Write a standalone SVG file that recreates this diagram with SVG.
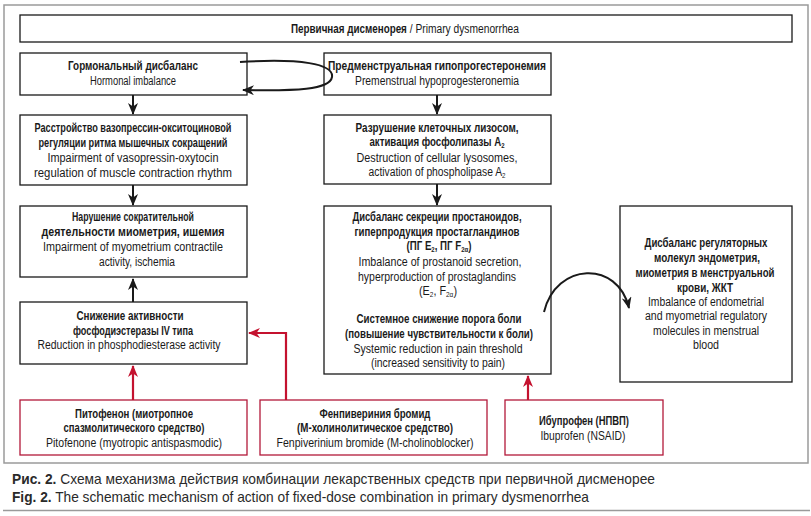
<svg xmlns="http://www.w3.org/2000/svg" width="811" height="516" viewBox="0 0 811 516">
<defs>
<style>
.box{fill:#fff;stroke:#1a1a1a;stroke-width:1.3}
.rbox{fill:#fff;stroke:#b3193a;stroke-width:1.3}
text{font-family:"Liberation Sans",Arial,sans-serif;fill:#1a1a1a;text-anchor:middle}
.b{font-weight:bold;font-size:12px}
.r{font-size:12.5px}
.s{font-size:7.5px}
.cap{font-family:"Liberation Sans",Arial,sans-serif;font-size:14.5px;fill:#2a2a2a;text-anchor:start}
.k{fill:none;stroke:#1a1a1a;stroke-width:2}
.red{fill:none;stroke:#c4122f;stroke-width:2.2}
</style>
<marker id="ak" viewBox="0 0 12 10" refX="11" refY="5" markerWidth="12" markerHeight="10" markerUnits="userSpaceOnUse" orient="auto">
<path d="M0,0 L12,5 L0,10 L3.5,5 z" fill="#1a1a1a"/>
</marker>
<marker id="ar" viewBox="0 0 12 10" refX="11" refY="5" markerWidth="12" markerHeight="10" markerUnits="userSpaceOnUse" orient="auto">
<path d="M0,0 L12,5 L0,10 L3.5,5 z" fill="#c4122f"/>
</marker>
</defs>
<rect x="0" y="0" width="811" height="516" fill="#fff"/>
<rect x="4" y="5" width="804" height="458" fill="none" stroke="#9a9a9a" stroke-width="1.5"/>
<line x1="3" y1="510.5" x2="810" y2="510.5" stroke="#9a9a9a" stroke-width="1.5"/>

<g id="title">
<rect class="box" x="20" y="15" width="772" height="27"/>
<text x="405" y="33" textLength="228" lengthAdjust="spacingAndGlyphs"><tspan class="b">Первичная дисменорея</tspan><tspan class="r"> / Primary dysmenorrhea</tspan></text>
</g>

<g id="hormonal">
<rect class="box" x="20" y="53" width="227" height="42"/>
<text class="b" x="133" y="70" textLength="130" lengthAdjust="spacingAndGlyphs">Гормональный дисбаланс</text>
<text class="r" x="133" y="85" textLength="86" lengthAdjust="spacingAndGlyphs">Hormonal imbalance</text>
</g>

<g id="premenstrual">
<rect class="box" x="324" y="53" width="227" height="42"/>
<text class="b" x="437" y="70" textLength="218" lengthAdjust="spacingAndGlyphs">Предменструальная гипопрогестеронемия</text>
<text class="r" x="437" y="85" textLength="164" lengthAdjust="spacingAndGlyphs">Premenstrual hypoprogesteronemia</text>
</g>

<g id="vasopressin">
<rect class="box" x="20" y="115" width="227" height="70"/>
<text class="b" x="133" y="132" textLength="197" lengthAdjust="spacingAndGlyphs">Расстройство вазопрессин-окситоциновой</text>
<text class="b" x="133" y="147" textLength="189" lengthAdjust="spacingAndGlyphs">регуляции ритма мышечных сокращений</text>
<text class="r" x="133" y="162" textLength="171" lengthAdjust="spacingAndGlyphs">Impairment of vasopressin-oxytocin</text>
<text class="r" x="133" y="177" textLength="198" lengthAdjust="spacingAndGlyphs">regulation of muscle contraction rhythm</text>
</g>

<g id="lysosomes">
<rect class="box" x="324" y="115" width="227" height="69"/>
<text class="b" x="437" y="132" textLength="163" lengthAdjust="spacingAndGlyphs">Разрушение клеточных лизосом,</text>
<text class="b" x="437" y="146" textLength="135" lengthAdjust="spacingAndGlyphs">активация фосфолипазы A<tspan class="s" dy="2">2</tspan></text>
<text class="r" x="437" y="162" textLength="161" lengthAdjust="spacingAndGlyphs">Destruction of cellular lysosomes,</text>
<text class="r" x="437" y="176" textLength="137" lengthAdjust="spacingAndGlyphs">activation of phospholipase A<tspan class="s" dy="2">2</tspan></text>
</g>

<g id="myometrium">
<rect class="box" x="20" y="206" width="227" height="71"/>
<text class="b" x="133" y="221" textLength="122" lengthAdjust="spacingAndGlyphs">Нарушение сократительной</text>
<text class="b" x="133" y="236" textLength="183" lengthAdjust="spacingAndGlyphs">деятельности миометрия, ишемия</text>
<text class="r" x="133" y="251" textLength="180" lengthAdjust="spacingAndGlyphs">Impairment of myometrium contractile</text>
<text class="r" x="137" y="266" textLength="76" lengthAdjust="spacingAndGlyphs">activity,  ischemia</text>
</g>

<g id="prostanoids">
<rect class="box" x="324" y="206" width="227" height="168"/>
<text class="b" x="437" y="221" textLength="169" lengthAdjust="spacingAndGlyphs">Дисбаланс секреции простаноидов,</text>
<text class="b" x="437" y="236" textLength="165" lengthAdjust="spacingAndGlyphs">гиперпродукция простагландинов</text>
<text class="b" x="439" y="250" textLength="65" lengthAdjust="spacingAndGlyphs">(ПГ E<tspan class="s" dy="2">2</tspan><tspan dy="-2">, ПГ F</tspan><tspan class="s" dy="2">2α</tspan><tspan dy="-2">)</tspan></text>
<text class="r" x="440" y="266" textLength="163" lengthAdjust="spacingAndGlyphs">Imbalance of prostanoid secretion,</text>
<text class="r" x="437" y="281" textLength="158" lengthAdjust="spacingAndGlyphs">hyperproduction of prostaglandins</text>
<text class="r" x="438" y="295" textLength="38" lengthAdjust="spacingAndGlyphs">(E<tspan class="s" dy="2">2</tspan><tspan dy="-2">, F</tspan><tspan class="s" dy="2">2α</tspan><tspan dy="-2">)</tspan></text>
<text class="b" x="439" y="323" textLength="165" lengthAdjust="spacingAndGlyphs">Системное снижение порога боли</text>
<text class="b" x="439" y="338" textLength="188" lengthAdjust="spacingAndGlyphs">(повышение чувствительности к боли)</text>
<text class="r" x="438" y="353" textLength="169" lengthAdjust="spacingAndGlyphs">Systemic reduction in pain threshold</text>
<text class="r" x="438" y="367" textLength="134" lengthAdjust="spacingAndGlyphs">(increased sensitivity to pain)</text>
</g>

<g id="regulatory">
<rect class="box" x="620" y="206" width="172" height="176"/>
<text class="b" x="706" y="247" textLength="123" lengthAdjust="spacingAndGlyphs">Дисбаланс регуляторных</text>
<text class="b" x="707" y="262" textLength="106" lengthAdjust="spacingAndGlyphs">молекул эндометрия,</text>
<text class="b" x="705" y="277" textLength="139" lengthAdjust="spacingAndGlyphs">миометрия в менструальной</text>
<text class="b" x="705" y="292" textLength="56" lengthAdjust="spacingAndGlyphs">крови, ЖКТ</text>
<text class="r" x="706" y="306" textLength="116" lengthAdjust="spacingAndGlyphs">Imbalance of endometrial</text>
<text class="r" x="706" y="320" textLength="122" lengthAdjust="spacingAndGlyphs">and myometrial regulatory</text>
<text class="r" x="706" y="335" textLength="106" lengthAdjust="spacingAndGlyphs">molecules in menstrual</text>
<text class="r" x="706" y="349" textLength="26" lengthAdjust="spacingAndGlyphs">blood</text>
</g>

<g id="pde">
<rect class="box" x="20" y="302" width="227" height="62"/>
<text class="b" x="130" y="320" textLength="107" lengthAdjust="spacingAndGlyphs">Снижение активности</text>
<text class="b" x="133" y="335" textLength="120" lengthAdjust="spacingAndGlyphs">фосфодиэстеразы IV типа</text>
<text class="r" x="129" y="349" textLength="183" lengthAdjust="spacingAndGlyphs">Reduction in phosphodiesterase activity</text>
</g>

<g id="pitofenone">
<rect class="rbox" x="20" y="400" width="227" height="55"/>
<text class="b" x="134" y="418" textLength="118" lengthAdjust="spacingAndGlyphs">Питофенон (миотропное</text>
<text class="b" x="134" y="432" textLength="141" lengthAdjust="spacingAndGlyphs">спазмолитического средство)</text>
<text class="r" x="134" y="447" textLength="176" lengthAdjust="spacingAndGlyphs">Pitofenone (myotropic antispasmodic)</text>
</g>

<g id="fenpiverinium">
<rect class="rbox" x="260" y="400" width="227" height="55"/>
<text class="b" x="375" y="418" textLength="111" lengthAdjust="spacingAndGlyphs">Фенпивериния бромид</text>
<text class="b" x="375" y="432" textLength="156" lengthAdjust="spacingAndGlyphs">(М-холинолитическое средство)</text>
<text class="r" x="375" y="447" textLength="197" lengthAdjust="spacingAndGlyphs">Fenpiverinium bromide (M-cholinoblocker)</text>
</g>

<g id="ibuprofen">
<rect class="rbox" x="505" y="400" width="158" height="55"/>
<text class="b" x="584" y="425" textLength="90" lengthAdjust="spacingAndGlyphs">Ибупрофен (НПВП)</text>
<text class="r" x="583" y="440" textLength="85" lengthAdjust="spacingAndGlyphs">Ibuprofen (NSAID)</text>
</g>

<g id="connectors">
<path class="k" d="M240,62 C300,58 334,64 332,77 C330,90 295,91 243,90" marker-end="url(#ak)"/>
<line class="k" x1="133" y1="95" x2="133" y2="114" marker-end="url(#ak)"/>
<line class="k" x1="437" y1="95" x2="437" y2="114" marker-end="url(#ak)"/>
<line class="k" x1="133" y1="185" x2="133" y2="205" marker-end="url(#ak)"/>
<line class="k" x1="437" y1="184" x2="437" y2="205" marker-end="url(#ak)"/>
<line class="k" x1="133" y1="302" x2="133" y2="279" marker-end="url(#ak)"/>
<path class="k" d="M544,312 C556,262 618,260 629,308" marker-end="url(#ak)"/>
<line class="red" x1="133" y1="400" x2="133" y2="366" marker-end="url(#ar)"/>
<polyline class="red" points="286,400 286,333 249,333" marker-end="url(#ar)"/>
<line class="red" x1="528" y1="400" x2="528" y2="376" marker-end="url(#ar)"/>
</g>

<g id="caption">
<text class="cap" x="12" y="484" textLength="643" lengthAdjust="spacingAndGlyphs"><tspan font-weight="bold">Рис. 2.</tspan> Схема механизма действия комбинации лекарственных средств при первичной дисменорее</text>
<text class="cap" x="12" y="502" textLength="577" lengthAdjust="spacingAndGlyphs"><tspan font-weight="bold">Fig. 2.</tspan> The schematic mechanism of action of fixed-dose combination in primary dysmenorrhea</text>
</g>
</svg>
